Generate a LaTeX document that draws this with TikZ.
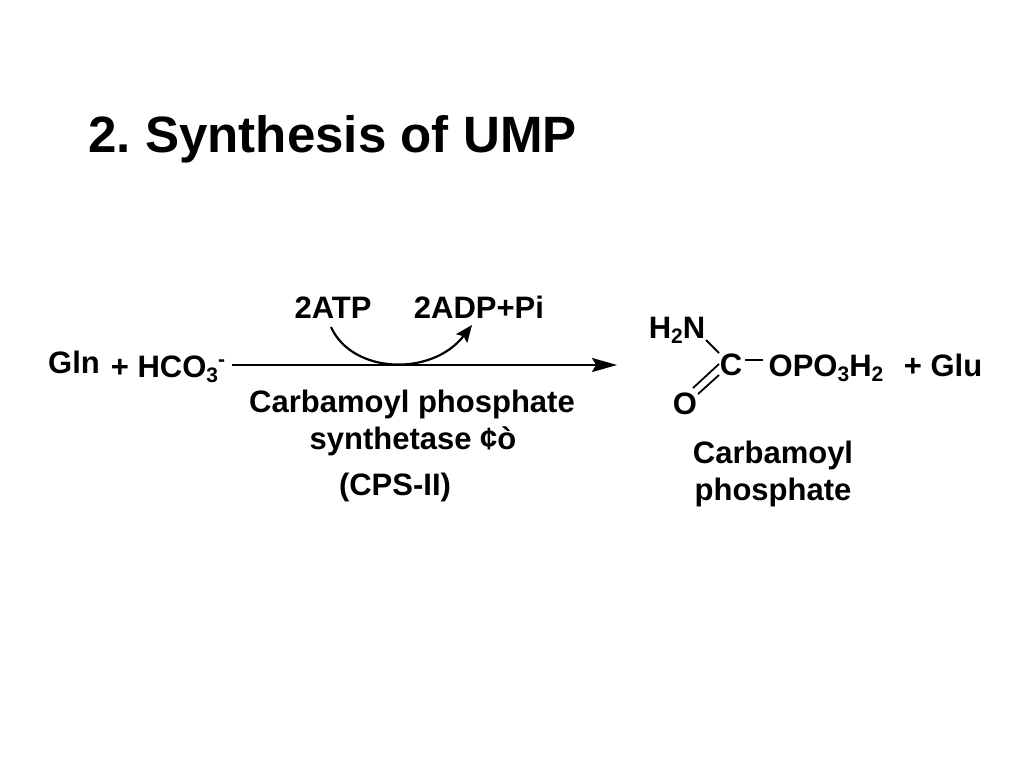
\documentclass[tikz,border=0pt]{standalone}
\usepackage{fontspec}
\setmainfont{Liberation Sans}
\usetikzlibrary{arrows.meta}
\newcommand{\lowtxt}[1]{\raisebox{-5.5pt}{\fontsize{21}{24}\selectfont #1}}
\newcommand{\hightxt}[1]{\raisebox{11pt}{\fontsize{21}{24}\selectfont #1}}
\begin{document}
\begin{tikzpicture}[x=1pt, y=-1pt, >=stealth, thick]
  \tikzset{label/.style={font=\fontsize{31}{36}\selectfont\bfseries, inner sep=0pt, anchor=base}}
  \tikzset{title/.style={font=\fontsize{51.1}{60}\selectfont\bfseries, inner sep=0pt, anchor=base west}}
  \tikzset{bond/.style={line width=1.8pt}}
  \useasboundingbox (0,0) rectangle (1024,768);
  \frenchspacing

  \node[name = head, title] at (88,152) {2. Synthesis of UMP};

  \node[name = gln, label] at (74,373) {Gln};
  \node[name = hco, label] at (168,377) {+ HCO\lowtxt{3}\hightxt{-}};

  \node[name = atp, label] at (333,318) {2ATP};
  \node[name = adp, label] at (479,318) {2ADP+Pi};

  \coordinate (start) at (232,365);
  \coordinate (stop) at (617,365);
  \coordinate (bendin) at (331,327);
  \coordinate (bendout) at (472,325);
  \draw [-{Stealth[length=25pt,width=14pt,inset=4pt]}, line width=2.2pt] (start) -- (stop);
  \draw [-{Stealth[length=17pt,width=14pt,inset=3pt]}, line width=2.2pt] (bendin) .. controls (352,374) and (432,377) .. (bendout);

  \node[name = cps, label] at (412,412) {Carbamoyl phosphate};
  \node[name = syn, label] at (413,449) {synthetase ¢ò};
  \node[name = cpsii, label] at (395,495) {(CPS-II)};

  \node[name = amine, label] at (677,338) {H\lowtxt{2}N};
  \node[name = carbon, label] at (731,375) {C};
  \node[name = oxy, label] at (685,414) {O};
  \node[name = phos, label] at (826,376) {OPO\lowtxt{3}H\lowtxt{2}};
  \node[name = glu, label] at (943,376) {+ Glu};

  \coordinate (a1) at (706,340);
  \coordinate (a2) at (719,353);
  \coordinate (b1) at (745,360);
  \coordinate (b2) at (763,360);
  \coordinate (c1) at (693,388);
  \coordinate (c2) at (719,364);
  \coordinate (d1) at (698,394);
  \coordinate (d2) at (719,375);
  \draw [bond] (a1) -- (a2);
  \draw [bond] (b1) -- (b2);
  \draw [bond] (c1) -- (c2);
  \draw [bond] (d1) -- (d2);

  \node[name = prod1, label] at (773,463) {Carbamoyl};
  \node[name = prod2, label] at (773,500) {phosphate};
\end{tikzpicture}
\end{document}
